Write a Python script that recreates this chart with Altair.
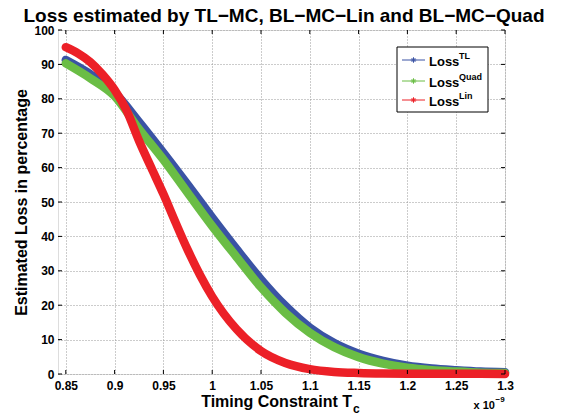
import altair as alt
import pandas as pd

# ---- data ----
tc_tl = [0.85, 0.875, 0.9, 0.925, 0.95, 0.975, 1.0, 1.025, 1.05, 1.075,
         1.1, 1.125, 1.15, 1.175, 1.2, 1.225, 1.25, 1.275, 1.3]
loss_tl = [91.3, 87.2, 81.8, 73.3, 64.3, 55.0, 45.5, 36.3, 27.5, 19.8,
           13.5, 9.0, 5.9, 3.8, 2.4, 1.6, 1.1, 0.7, 0.5]
tc_quad = tc_tl
loss_quad = [90.3, 86.0, 80.8, 71.2, 62.3, 52.6, 43.0, 34.0, 25.2, 17.8,
             12.0, 7.8, 4.9, 3.0, 1.8, 1.1, 0.7, 0.4, 0.3]
tc_lin = [0.85, 0.8625, 0.875, 0.8875, 0.9, 0.9125, 0.925, 0.9375, 0.95,
          0.9625, 0.975, 0.9875, 1.0, 1.025, 1.05, 1.075, 1.1, 1.125,
          1.15, 1.175, 1.2, 1.25, 1.3]
loss_lin = [95.0, 93.2, 90.7, 87.1, 82.6, 76.5, 67.8, 60.0, 52.3,
            44.0, 36.0, 28.8, 22.5, 13.0, 6.7, 3.2, 1.4, 0.6,
            0.3, 0.15, 0.1, 0.05, 0.03]

series_names = ["TL", "Quad", "Lin"]
series_x = [tc_tl, tc_quad, tc_lin]
series_values = [loss_tl, loss_quad, loss_lin]
series_colors = ["#3a53a4", "#6abd45", "#ec2027"]

x_ticks = [0.85, 0.9, 0.95, 1.0, 1.05, 1.1, 1.15, 1.2, 1.25, 1.3]
y_ticks = [0, 10, 20, 30, 40, 50, 60, 70, 80, 90, 100]

title_text = "Loss estimated by TL\u2212MC, BL\u2212MC\u2212Lin and BL\u2212MC\u2212Quad"
x_title = "Timing Constraint T"
x_title_sub = "c"
y_title = "Estimated Loss in percentage"

# ---- layout ----
W, H = 447, 344
FONT = "Liberation Sans"

xs = alt.Scale(domain=[0.842, 1.3], nice=False, zero=False)
ys = alt.Scale(domain=[0, 100], nice=False)

xaxis = alt.Axis(values=x_ticks, format="~g", title=None, grid=True,
                 gridDash=[1, 2], gridColor="#999999", gridOpacity=1,
                 ticks=False, domain=False, labelFont=FONT,
                 labelFontWeight="bold", labelFontSize=12, labelColor="black",
                 labelPadding=6, labelFlush=False, labelOverlap=False)
yaxis = alt.Axis(values=y_ticks, title=y_title, grid=True,
                 gridDash=[1, 2], gridColor="#999999", gridOpacity=1,
                 ticks=False, domain=False, labelFont=FONT,
                 labelFontWeight="bold", labelFontSize=12, labelColor="black",
                 labelPadding=4, labelFlush=False, labelOverlap=False,
                 titleFont=FONT, titleFontSize=16, titleFontWeight="bold",
                 titleColor="black", titlePadding=4)

layers = []
for name, xv, vals, col in zip(series_names, series_x, series_values, series_colors):
    df = pd.DataFrame({"Tc": xv, "loss": vals})
    layers.append(
        alt.Chart(df).mark_line(color=col, strokeWidth=8.5, strokeCap="round",
                                strokeJoin="round", interpolate="monotone",
                                clip=False)
        .encode(x=alt.X("Tc:Q", scale=xs, axis=xaxis),
                y=alt.Y("loss:Q", scale=ys, axis=yaxis))
    )

# inward ticks on all four sides
xt = pd.DataFrame({"Tc": x_ticks})
yt = pd.DataFrame({"loss": y_ticks})
tick_len = 4
layers.append(alt.Chart(xt).mark_rule(color="black").encode(
    x=alt.X("Tc:Q", scale=xs, axis=xaxis), y=alt.value(H), y2=alt.value(H - tick_len)))
layers.append(alt.Chart(xt).mark_rule(color="black").encode(
    x=alt.X("Tc:Q", scale=xs, axis=xaxis), y=alt.value(0), y2=alt.value(tick_len)))
layers.append(alt.Chart(yt).mark_rule(color="black").encode(
    y=alt.Y("loss:Q", scale=ys, axis=yaxis), x=alt.value(0), x2=alt.value(tick_len)))
layers.append(alt.Chart(yt).mark_rule(color="black").encode(
    y=alt.Y("loss:Q", scale=ys, axis=yaxis), x=alt.value(W), x2=alt.value(W - tick_len)))

# legend box
one = pd.DataFrame({"a": [0]})
lx0, lx1, ly0, ly1 = 339, 430, 17, 82
layers.append(alt.Chart(one).mark_rect(fill="white", stroke="black", strokeWidth=1).encode(
    x=alt.value(lx0), x2=alt.value(lx1), y=alt.value(ly0), y2=alt.value(ly1)))
star = "M-1,0L1,0M0,-1L0,1M-0.7,-0.7L0.7,0.7M-0.7,0.7L0.7,-0.7"
row_y = [30, 51, 70]
for name, col, ry in zip(series_names, series_colors, row_y):
    layers.append(alt.Chart(one).mark_rule(color=col, strokeWidth=1).encode(
        x=alt.value(344), x2=alt.value(367), y=alt.value(ry)))
    layers.append(alt.Chart(one).mark_point(shape=star, size=30, stroke=col,
                                            filled=False, strokeWidth=1, opacity=1).encode(
        x=alt.value(355.5), y=alt.value(ry)))
    layers.append(alt.Chart(pd.DataFrame({"t": ["Loss"]})).mark_text(
        font=FONT, fontSize=13, fontWeight="bold", align="left",
        baseline="alphabetic", color="black").encode(
        x=alt.value(371), y=alt.value(ry + 6), text="t:N"))
    layers.append(alt.Chart(pd.DataFrame({"t": [name]})).mark_text(
        font=FONT, fontSize=9, fontWeight="bold", align="left",
        baseline="alphabetic", color="black").encode(
        x=alt.value(401), y=alt.value(ry - 1), text="t:N"))

# chart title
layers.append(alt.Chart(pd.DataFrame({"t": [title_text]})).mark_text(
    font=FONT, fontSize=19, fontWeight="bold", align="center",
    baseline="alphabetic", color="black").encode(
    x=alt.value(226), y=alt.value(-8.2), text="t:N"))

# x-axis title with subscript
layers.append(alt.Chart(pd.DataFrame({"t": [x_title]})).mark_text(
    font=FONT, fontSize=16, fontWeight="bold", align="right",
    baseline="alphabetic", color="black").encode(
    x=alt.value(294), y=alt.value(377), text="t:N"))
layers.append(alt.Chart(pd.DataFrame({"t": [x_title_sub]})).mark_text(
    font=FONT, fontSize=12, fontWeight="bold", align="left",
    baseline="alphabetic", color="black").encode(
    x=alt.value(295), y=alt.value(383), text="t:N"))
# exponent note
layers.append(alt.Chart(pd.DataFrame({"t": ["x 10"]})).mark_text(
    font=FONT, fontSize=11, fontWeight="bold", align="right",
    baseline="alphabetic", color="black").encode(
    x=alt.value(437), y=alt.value(379), text="t:N"))
layers.append(alt.Chart(pd.DataFrame({"t": ["\u22129"]})).mark_text(
    font=FONT, fontSize=8, fontWeight="bold", align="left",
    baseline="alphabetic", color="black").encode(
    x=alt.value(437.5), y=alt.value(372), text="t:N"))

chart = alt.layer(*layers).properties(
    width=W, height=H,
    autosize=alt.AutoSizeParams(type="none"),
    padding={"left": 50, "top": 22, "right": 61, "bottom": 42},
).configure_view(stroke="black", strokeWidth=1).configure(background="white")

chart.save("out.html", embed_options={"renderer": "svg", "actions": False})
